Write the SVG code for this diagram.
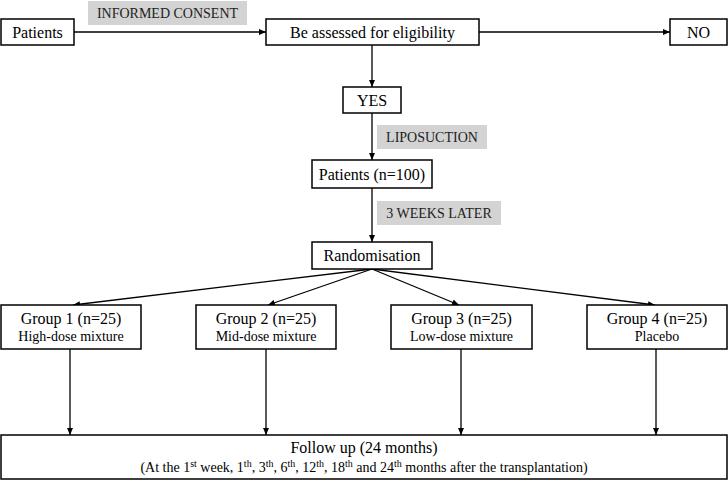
<svg xmlns="http://www.w3.org/2000/svg" width="728" height="481" viewBox="0 0 728 481">
<defs>
<marker id="ah" markerUnits="userSpaceOnUse" markerWidth="7" markerHeight="6" refX="7" refY="3" orient="auto">
<path d="M0,0 L7,3 L0,6 z" fill="#000"/>
</marker>
<style>
.box{fill:#fff;stroke:#000;stroke-width:1.5}
.tag{fill:#d3d3d3;stroke:none}
text{font-family:'Liberation Serif','Times New Roman',Times,serif;text-anchor:middle;fill:#000}
.t{font-size:16px}
.s{font-size:14px}
.g{font-size:14px;fill:#222}
.f{font-size:14px}
.sup{font-size:10px}
.c{fill:none;stroke:#000;stroke-width:1.3;marker-end:url(#ah)}
</style>
</defs>
<rect width="728" height="481" fill="#fff"/>
<g id="connectors">
<line class="c" x1="74" y1="32" x2="266" y2="32"/>
<line class="c" x1="479" y1="32" x2="670" y2="32"/>
<line class="c" x1="372" y1="45" x2="372" y2="87"/>
<line class="c" x1="372" y1="113" x2="372" y2="160"/>
<line class="c" x1="372" y1="188" x2="372" y2="242"/>
<line class="c" x1="372" y1="269" x2="73" y2="305"/>
<line class="c" x1="372" y1="269" x2="268" y2="305"/>
<line class="c" x1="372" y1="269" x2="459" y2="305"/>
<line class="c" x1="372" y1="269" x2="655" y2="305"/>
<line class="c" x1="70" y1="349" x2="70" y2="435"/>
<line class="c" x1="266" y1="349" x2="266" y2="435"/>
<line class="c" x1="461" y1="349" x2="461" y2="435"/>
<line class="c" x1="656" y1="349" x2="656" y2="435"/>
</g>
<g id="tag-consent"><rect class="tag" x="88" y="1" width="159" height="24"/><text class="g" x="167.5" y="18">INFORMED CONSENT</text></g>
<g id="tag-lipo"><rect class="tag" x="377" y="125" width="110" height="24"/><text class="g" x="432" y="142">LIPOSUCTION</text></g>
<g id="tag-3weeks"><rect class="tag" x="377" y="201" width="124" height="24"/><text class="g" x="439" y="218">3 WEEKS LATER</text></g>
<g id="patients"><rect class="box" x="1" y="19" width="73" height="26"/><text class="t" x="37.5" y="38">Patients</text></g>
<g id="assess"><rect class="box" x="266" y="19" width="213" height="26"/><text class="t" x="372.5" y="38">Be assessed for eligibility</text></g>
<g id="no"><rect class="box" x="670" y="19" width="57" height="26"/><text class="t" x="698.5" y="38">NO</text></g>
<g id="yes"><rect class="box" x="343" y="87" width="58" height="26"/><text class="t" x="372" y="106">YES</text></g>
<g id="patients100"><rect class="box" x="312" y="160" width="120" height="28"/><text class="t" x="372" y="180">Patients (n=100)</text></g>
<g id="random"><rect class="box" x="312" y="242" width="120" height="27"/><text class="t" x="372" y="261">Randomisation</text></g>
<g id="group1"><rect class="box" x="1" y="305" width="140" height="44"/><text class="t" x="71" y="324">Group 1 (n=25)</text><text class="s" x="71" y="341">High-dose mixture</text></g>
<g id="group2"><rect class="box" x="196" y="305" width="140" height="44"/><text class="t" x="266" y="324">Group 2 (n=25)</text><text class="s" x="266" y="341">Mid-dose mixture</text></g>
<g id="group3"><rect class="box" x="391" y="305" width="141" height="44"/><text class="t" x="461.5" y="324">Group 3 (n=25)</text><text class="s" x="461.5" y="341">Low-dose mixture</text></g>
<g id="group4"><rect class="box" x="587" y="305" width="140" height="44"/><text class="t" x="657" y="324">Group 4 (n=25)</text><text class="s" x="657" y="341">Placebo</text></g>
<g id="followup"><rect class="box" x="1" y="435" width="726" height="44"/><text class="t" x="364" y="453">Follow up (24 months)</text>
<text class="f" x="364" y="471.5">(At the 1<tspan class="sup" dy="-4.5">st</tspan><tspan dy="4.5"> week, 1</tspan><tspan class="sup" dy="-4.5">th</tspan><tspan dy="4.5">, 3</tspan><tspan class="sup" dy="-4.5">th</tspan><tspan dy="4.5">, 6</tspan><tspan class="sup" dy="-4.5">th</tspan><tspan dy="4.5">, 12</tspan><tspan class="sup" dy="-4.5">th</tspan><tspan dy="4.5">, 18</tspan><tspan class="sup" dy="-4.5">th</tspan><tspan dy="4.5"> and 24</tspan><tspan class="sup" dy="-4.5">th</tspan><tspan dy="4.5"> months after the transplantation)</tspan></text></g>
</svg>
